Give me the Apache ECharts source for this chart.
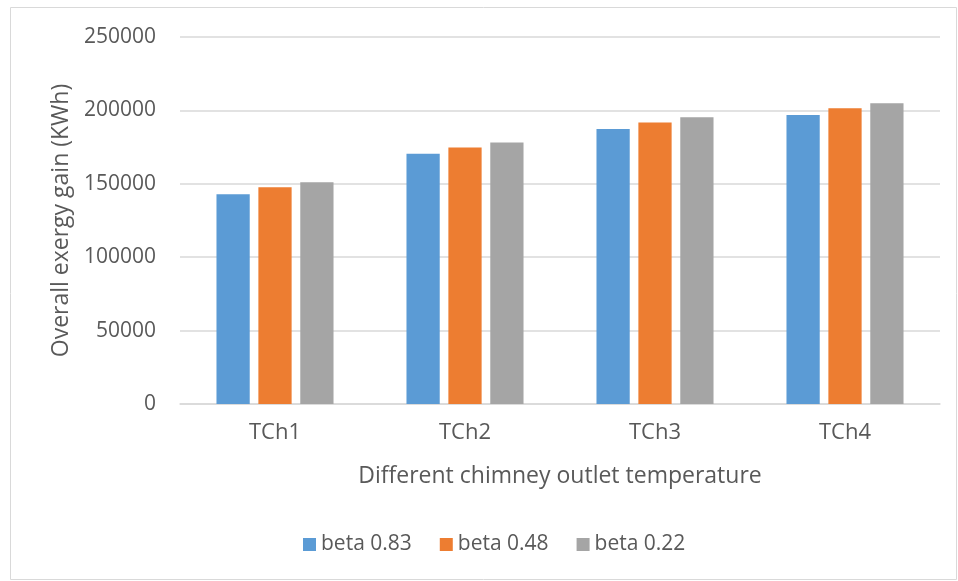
<!DOCTYPE html>
<html><head><meta charset="utf-8">
<script src="https://cdn.jsdelivr.net/npm/echarts@6/dist/echarts.min.js"></script>
<style>html,body{margin:0;padding:0;background:#fff}#c{width:958px;height:581px}</style>
</head><body><div id="c"></div>
<script>
const categories = ["TCh1", "TCh2", "TCh3", "TCh4"];
const beta083 = [142900, 170400, 187300, 196800];
const beta048 = [147700, 174700, 191800, 201400];
const beta022 = [151100, 178100, 195400, 204800];
const seriesNames = ["beta 0.83", "beta 0.48", "beta 0.22"];
const colors = ["#5b9bd5", "#ed7d31", "#a5a5a5"];
const FONT = "Open Sans";
const chart = echarts.init(document.getElementById('c'));
const mk = (name, data, color) => ({
  name, type: 'bar', data, barWidth: '17.5%', barGap: '26%',
  itemStyle: { color }
});
chart.setOption({
  animation: false,
  textStyle: { fontFamily: FONT },
  graphic: [{ type: 'rect', shape: { x: 10.5, y: 7.5, width: 946, height: 572 },
    style: { fill: 'none', stroke: '#d9d9d9', lineWidth: 1 } }],
  grid: { left: 180, right: 18, top: 37, bottom: 177 },
  legend: {
    bottom: 21, left: 298, itemWidth: 13, itemHeight: 13, itemGap: 28,
    icon: 'rect', textStyle: { fontSize: 21, color: '#595959', fontFamily: FONT },
    data: seriesNames
  },
  xAxis: {
    type: 'category', data: categories,
    axisLine: { lineStyle: { color: '#d9d9d9', width: 1.5 } },
    axisTick: { show: false },
    axisLabel: { fontSize: 22, color: '#595959', margin: 18 },
    name: 'Different chimney outlet temperature', nameLocation: 'middle', nameGap: 61,
    nameTextStyle: { fontSize: 23, color: '#595959' }
  },
  yAxis: {
    type: 'value', min: 0, max: 250000, interval: 50000,
    axisLine: { show: false }, axisTick: { show: false },
    splitLine: { lineStyle: { color: '#d9d9d9', width: 1.5 } },
    axisLabel: { fontSize: 21, color: '#595959', margin: 24, formatter: v => String(v) },
    name: 'Overall exergy gain (KWh)', nameLocation: 'middle', nameGap: 102, nameRotate: 90,
    nameTextStyle: { fontSize: 23, color: '#595959' }
  },
  series: [
    mk(seriesNames[0], beta083, colors[0]),
    mk(seriesNames[1], beta048, colors[1]),
    mk(seriesNames[2], beta022, colors[2])
  ]
});
</script></body></html>
